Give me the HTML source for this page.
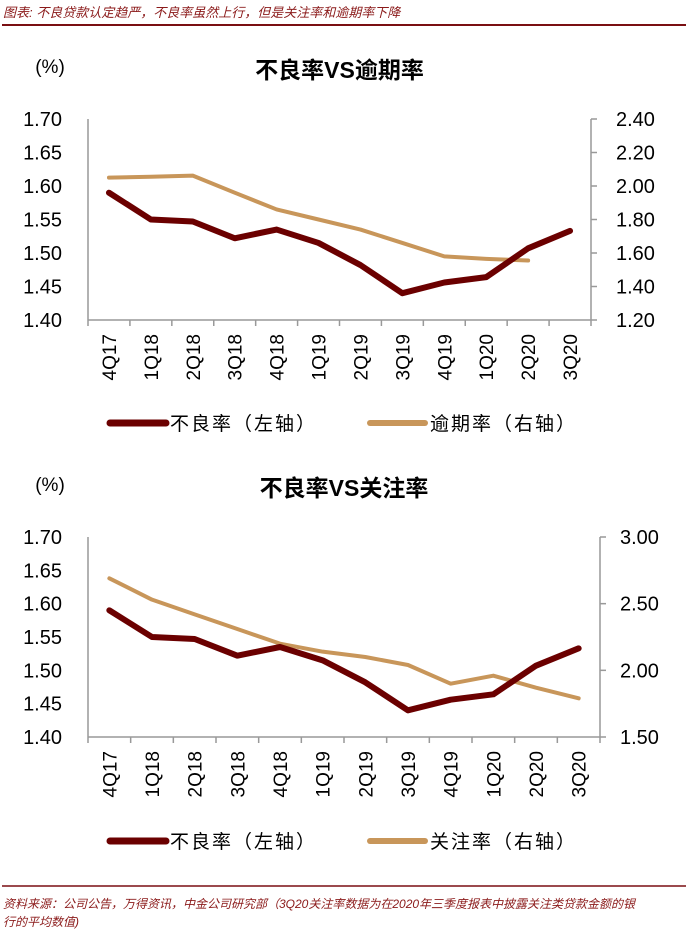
<!DOCTYPE html>
<html><head><meta charset="utf-8"><style>
body{margin:0;background:#fff;width:689px;height:940px;overflow:hidden;font-family:"Liberation Sans","Noto Sans CJK SC",sans-serif}
svg text{font-family:"Liberation Sans","Noto Sans CJK SC",sans-serif}
</style></head><body>
<svg id="s" width="689" height="940" xmlns="http://www.w3.org/2000/svg">
<text x="3" y="17" font-size="13" font-style="italic" fill="#8b1a1a">图表: 不良贷款认定趋严，不良率虽然上行，但是关注率和逾期率下降</text>
<line x1="2" y1="25" x2="686" y2="25" stroke="#7a0f12" stroke-width="2"/>
<line x1="2" y1="886" x2="686" y2="886" stroke="#7a0f12" stroke-width="1.5"/>
<text x="3" y="908" font-size="12" font-style="italic" fill="#8b1a1a">资料来源：公司公告，万得资讯，中金公司研究部（3Q20关注率数据为在2020年三季度报表中披露关注类贷款金额的银</text>
<text x="3" y="926" font-size="12" font-style="italic" fill="#8b1a1a">行的平均数值)</text>
</svg>
<script>
const categories=["4Q17","1Q18","2Q18","3Q18","4Q18","1Q19","2Q19","3Q19","4Q19","1Q20","2Q20","3Q20"];
const nplValues=[1.59,1.55,1.547,1.522,1.535,1.515,1.482,1.44,1.456,1.464,1.507,1.533];
const overdueValues=[2.05,2.055,2.062,1.96,1.86,1.80,1.74,1.66,1.58,1.565,1.555];
const attentionValues=[2.69,2.53,2.42,2.31,2.20,2.14,2.10,2.04,1.90,1.96,1.87,1.79];
const leftTicks=[1.40,1.45,1.50,1.55,1.60,1.65,1.70];
const rightTicks1=[1.20,1.40,1.60,1.80,2.00,2.20,2.40];
const rightTicks2=[1.50,2.00,2.50,3.00];
const NS="http://www.w3.org/2000/svg";
const svg=document.getElementById('s');
function mk(tag,attrs,parent){const e=document.createElementNS(NS,tag);for(const k in attrs)e.setAttribute(k,attrs[k]);(parent||svg).appendChild(e);return e;}
function chart(cfg){
  const g=mk('g',{});
  
  
  const {x0,x1,y0,y1}=cfg;
  const n=categories.length, step=(x1-x0)/n;
  const xs=i=>x0+step*(i+0.5);
  const yl=v=>y1-(v-cfg.lmin)/(cfg.lmax-cfg.lmin)*(y1-y0);
  const yr=v=>y1-(v-cfg.rmin)/(cfg.rmax-cfg.rmin)*(y1-y0);
  const t=mk('text',{x:(x0+x1)/2,y:cfg.titleY,'font-size':23,'font-weight':'bold','text-anchor':'middle',fill:'#000'},g);t.textContent=cfg.title;
  
  
  const u=mk('text',{x:50,y:cfg.titleY-5,'font-size':19,'text-anchor':'middle',fill:'#000'},g);u.textContent='(%)';
  
  
  mk('line',{x1:x0,y1:y0,x2:x0,y2:y1,stroke:'#999','stroke-width':1.5},g);
  mk('line',{x1:x1,y1:y0,x2:x1,y2:y1,stroke:'#999','stroke-width':1.5},g);
  mk('line',{x1:x0,y1:y1,x2:x1,y2:y1,stroke:'#999','stroke-width':1.5},g);
  leftTicks.forEach(v=>{
    const y=yl(v);
    const l=mk('text',{x:62,y:y+7,'font-size':20,'text-anchor':'end',fill:'#000'},g);l.textContent=v.toFixed(2);
    
    
  });
  cfg.rticks.forEach(v=>{
    const y=yr(v);
    mk('line',{x1:x1,y1:y,x2:x1+6,y2:y,stroke:'#999','stroke-width':1.5},g);
    const l=mk('text',{x:x1+cfg.rgap,y:y+7,'font-size':20,'text-anchor':'start',fill:'#000'},g);l.textContent=v.toFixed(2);
    
    
  });
  for(let i=0;i<=n;i++){const x=x0+step*i;mk('line',{x1:x,y1:y1,x2:x,y2:y1+6,stroke:'#999','stroke-width':1.5},g);}
  categories.forEach((c,i)=>{
    const x=xs(i),y=y1+14;
    const l=mk('text',{x:x,y:y,'font-size':19,'text-anchor':'end',fill:'#000',transform:`rotate(-90 ${x} ${y}) translate(0 7)`},g);l.textContent=c;
    
    
  });
  const p2=mk('polyline',{points:cfg.rvals.map((v,i)=>xs(i)+','+yr(v)).join(' '),fill:'none',stroke:'#c8965a','stroke-width':4,'stroke-linejoin':'round','stroke-linecap':'round'},g);
  
  
  const p1=mk('polyline',{points:nplValues.map((v,i)=>xs(i)+','+yl(v)).join(' '),fill:'none',stroke:'#6b0000','stroke-width':6,'stroke-linejoin':'round','stroke-linecap':'round'},g);
  
  
  const ly=cfg.legendY;
  const le1=mk('g',{},g);
  
  
  mk('line',{x1:110,y1:ly,x2:166,y2:ly,stroke:'#6b0000','stroke-width':7,'stroke-linecap':'round'},le1);
  const a=mk('text',{x:170,y:ly+7,'font-size':19,fill:'#000','letter-spacing':2},le1);a.textContent='不良率（左轴）';
  const le2=mk('g',{},g);
  
  
  mk('line',{x1:370,y1:ly,x2:425,y2:ly,stroke:'#c8965a','stroke-width':6,'stroke-linecap':'round'},le2);
  const b=mk('text',{x:430,y:ly+7,'font-size':19,fill:'#000','letter-spacing':2},le2);b.textContent=cfg.legend2;
}
chart({name:'npl-vs-overdue-chart',title:'不良率VS逾期率',titleY:78,x0:88,x1:591,y0:119,y1:320,rgap:25,lmin:1.40,lmax:1.70,rmin:1.20,rmax:2.40,rticks:rightTicks1,rvals:overdueValues,rname:'overdue-ratio',legend2:'逾期率（右轴）',legendY:423});
chart({name:'npl-vs-attention-chart',title:'不良率VS关注率',titleY:496,x0:88,x1:600,y0:537,y1:737,rgap:20,lmin:1.40,lmax:1.70,rmin:1.50,rmax:3.00,rticks:rightTicks2,rvals:attentionValues,rname:'attention-ratio',legend2:'关注率（右轴）',legendY:841});
</script>
</body></html>
